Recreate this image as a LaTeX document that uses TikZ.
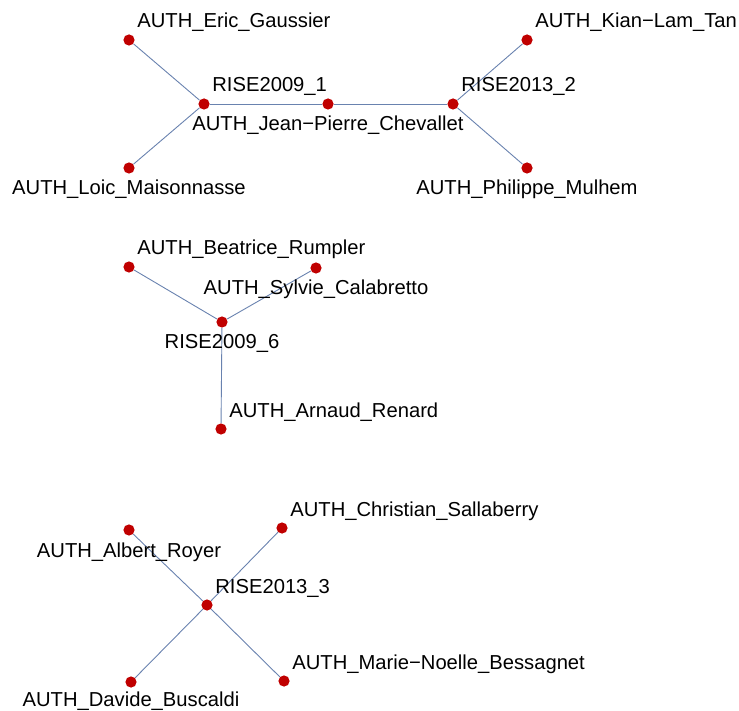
\documentclass[tikz,border=0pt]{standalone}
\usepackage{fontspec}
\setmainfont{Liberation Sans}
\usepackage{tikz}
\definecolor{dotred}{RGB}{192,0,0}
\definecolor{linkblue}{RGB}{105,130,175}
\tikzset{
    dot/.style={circle, fill=dotred, inner sep=0pt, minimum size=5.6pt},
    link/.style={draw=linkblue, line width=0.45pt},
    tagr/.style={anchor=base west, inner sep=0pt, font=\fontsize{10.1}{12}\selectfont},
    tagb/.style={anchor=base, inner sep=0pt, font=\fontsize{10.1}{12}\selectfont}
}
\begin{document}
\begin{tikzpicture}[x=0.5pt, y=-0.5pt]
		\useasboundingbox (0,0) rectangle (739,711);
		
		% First component
		\node[dot] (eric) at (129,40) {};
		\node[dot] (loic) at (129,168) {};
		\node[dot] (r091) at (204,104) {};
		\node[dot] (jpc) at (328,104) {};
		\node[dot] (r132) at (453,104) {};
		\node[dot] (kian) at (527,40) {};
		\node[dot] (phil) at (527,168) {};
		\draw[link] (eric) -- (r091);
		\draw[link] (loic) -- (r091);
		\draw[link] (r091) -- (jpc) -- (r132);
		\draw[link] (r132) -- (kian);
		\draw[link] (r132) -- (phil);
		\node[tagr] at ([shift={(8,-12)}]eric) {AUTH\_Eric\_Gaussier};
		\node[tagb] at ([shift={(0,27)}]loic) {AUTH\_Loic\_Maisonnasse};
		\node[tagr] at ([shift={(8,-12)}]r091) {RISE2009\_1};
		\node[tagb] at ([shift={(0,27)}]jpc) {AUTH\_Jean−Pierre\_Chevallet};
		\node[tagr] at ([shift={(8,-12)}]r132) {RISE2013\_2};
		\node[tagr] at ([shift={(8,-12)}]kian) {AUTH\_Kian−Lam\_Tan};
		\node[tagb] at ([shift={(0,27)}]phil) {AUTH\_Philippe\_Mulhem};
		
		% Second component
		\node[dot] (beat) at (129,267) {};
		\node[dot] (sylv) at (316,268) {};
		\node[dot] (r096) at (222,322) {};
		\node[dot] (arna) at (221,429) {};
		\draw[link] (beat) -- (r096);
		\draw[link] (sylv) -- (r096);
		\draw[link] (r096) -- (arna);
		\node[tagr] at ([shift={(8,-12)}]beat) {AUTH\_Beatrice\_Rumpler};
		\node[tagb] at ([shift={(0,27)}]sylv) {AUTH\_Sylvie\_Calabretto};
		\node[tagb] at ([shift={(0,27)}]r096) {RISE2009\_6};
		\node[tagr] at ([shift={(8,-12)}]arna) {AUTH\_Arnaud\_Renard};
		
		% Third component
		\node[dot] (albe) at (129,530) {};
		\node[dot] (chri) at (282,528) {};
		\node[dot] (r133) at (207,605) {};
		\node[dot] (davi) at (131,682) {};
		\node[dot] (mari) at (284,681) {};
		\draw[link] (albe) -- (r133);
		\draw[link] (chri) -- (r133);
		\draw[link] (davi) -- (r133);
		\draw[link] (mari) -- (r133);
		\node[tagb] at ([shift={(0,27)}]albe) {AUTH\_Albert\_Royer};
		\node[tagr] at ([shift={(8,-12)}]chri) {AUTH\_Christian\_Sallaberry};
		\node[tagr] at ([shift={(8,-12)}]r133) {RISE2013\_3};
		\node[tagb] at ([shift={(0,24.5)}]davi) {AUTH\_Davide\_Buscaldi};
		\node[tagr] at ([shift={(8,-12)}]mari) {AUTH\_Marie−Noelle\_Bessagnet};
	\end{tikzpicture}
\end{document}
